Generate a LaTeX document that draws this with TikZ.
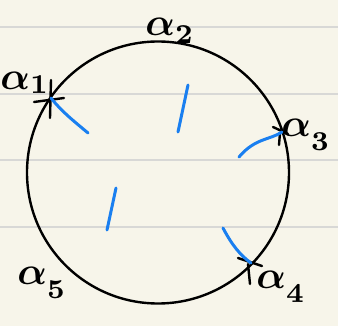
\documentclass[tikz,border=0pt]{standalone}
\usepackage{graphicx}
\usepackage{xcolor}
\definecolor{paper}{HTML}{F7F5EA}
\definecolor{ruled}{HTML}{D8D8D6}
\definecolor{pen}{HTML}{1A7FF0}
\newcommand{\handlab}[2]{\scalebox{3.9}{\boldmath$\alpha_{\lower#2pt\hbox{\boldmath$\scriptstyle #1$}}$}}
\tikzset{
  rule/.style={draw=ruled, line width=1.6pt},
  ink/.style={draw=black, line width=2.4pt, line cap=round},
  blueink/.style={draw=pen, line width=3pt, line cap=round},
  lbl/.style={inner sep=0pt}
}
\begin{document}
\begin{tikzpicture}[x=1pt,y=-1pt]
\fill[paper] (0,0) rectangle (338,326);
\useasboundingbox (0,0) rectangle (338,326);
\foreach \yy in {27,94,160,227} \draw[rule] (0,\yy) -- (338,\yy);
% circle
\coordinate (c) at (158,172.5);
\draw[ink] (c) circle[radius=131];
% marked points
\coordinate (p1) at (51,98);
\coordinate (p3) at (282,132);
\coordinate (p4) at (251,263);
% crosses
\draw[ink] (51,80) -- (50,118);
\draw[ink] (34,102) -- (64,98);
\draw[ink] (273,127) -- (288,134);
\draw[ink] (280,133) -- (279,145);
\draw[ink] (238,258) -- (262,266);
\draw[ink] (248,264) -- (250,284);
% blue strokes
\coordinate (b1) at (88,133);
\coordinate (b3) at (239,157);
\coordinate (b4) at (223,228);
\draw[blueink] (p1) .. controls (62,112) and (75,122) .. (b1);
\draw[blueink] (p3) .. controls (270,140) and (255,138) .. (b3);
\draw[blueink] (p4) .. controls (240,255) and (232,245) .. (b4);
\coordinate (s1a) at (188,85);
\coordinate (s1b) at (178,132);
\coordinate (s2a) at (116,188);
\coordinate (s2b) at (107,230);
\draw[blueink] (s1a) -- (s1b);
\draw[blueink] (s2a) -- (s2b);
% labels
\node[lbl] (a1) at (25,85) {\handlab{1}{-1}};
\node[lbl] (a2) at (170,31) {\handlab{2}{0.5}};
\node[lbl] (a3) at (306,135) {\handlab{3}{2}};
\node[lbl] (a4) at (281,287) {\handlab{4}{2}};
\node[lbl] (a5) at (42,283) {\handlab{5}{2}};
\end{tikzpicture}
\end{document}
